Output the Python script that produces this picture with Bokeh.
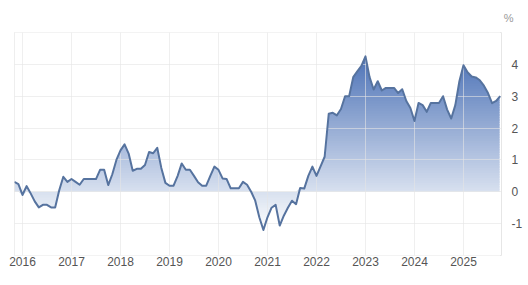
from bokeh.plotting import figure
from bokeh.models import Range1d, FixedTicker, LinearAxis, Title
from bokeh.embed import file_html
from bokeh.resources import INLINE
import numpy as np

# Monthly readings, Nov 2015 .. Oct 2025 (%)
start_year, start_month = 2015, 11
values_2015 = [0.31, 0.24]
values_2016 = [-0.10, 0.18, -0.05, -0.30, -0.49, -0.41, -0.41, -0.49, -0.49, 0.05, 0.47, 0.31]
values_2017 = [0.40, 0.31, 0.22, 0.40, 0.40, 0.40, 0.40, 0.69, 0.69, 0.21, 0.55, 1.00]
values_2018 = [1.30, 1.49, 1.20, 0.66, 0.72, 0.72, 0.84, 1.25, 1.21, 1.38, 0.75, 0.28]
values_2019 = [0.19, 0.19, 0.50, 0.89, 0.69, 0.69, 0.50, 0.30, 0.19, 0.19, 0.50, 0.79]
values_2020 = [0.69, 0.42, 0.40, 0.11, 0.11, 0.11, 0.31, 0.22, 0.00, -0.28, -0.80, -1.20]
values_2021 = [-0.80, -0.50, -0.41, -1.06, -0.75, -0.50, -0.28, -0.39, 0.12, 0.10, 0.50, 0.79]
values_2022 = [0.50, 0.80, 1.10, 2.45, 2.48, 2.40, 2.60, 3.00, 3.00, 3.60, 3.78, 3.95]
values_2023 = [4.25, 3.60, 3.21, 3.47, 3.18, 3.26, 3.26, 3.26, 3.10, 3.22, 2.85, 2.63]
values_2024 = [2.22, 2.79, 2.72, 2.51, 2.79, 2.79, 2.79, 3.00, 2.58, 2.30, 2.72, 3.47]
values_2025 = [3.97, 3.75, 3.62, 3.59, 3.50, 3.33, 3.10, 2.78, 2.85, 3.00]

year_ticks = [2016, 2017, 2018, 2019, 2020, 2021, 2022, 2023, 2024, 2025]
y_ticks = [-1, 0, 1, 2, 3, 4]
y_grid = [-2, -1, 0, 1, 2, 3, 4, 5]
unit_label = "%"

vals = np.array(values_2015 + values_2016 + values_2017 + values_2018 + values_2019 +
                values_2020 + values_2021 + values_2022 + values_2023 + values_2024 +
                values_2025, dtype=float)
idx = np.arange(len(vals))
x = start_year + (start_month - 1 + idx) / 12.0

p = figure(width=528, height=285, output_backend="svg", toolbar_location=None,
           x_range=Range1d(2015.837, 2025.776), y_range=Range1d(-2, 5),
           min_border_left=14, min_border_right=27, min_border_top=32, min_border_bottom=30,
           x_axis_location=None, y_axis_location=None)
p.background_fill_color = "white"
p.border_fill_color = "white"
p.outline_line_color = "#e6e6e6"

# gradient fill built from overlapping horizontal bands, then masked outside the area
ymin, ymax = vals.min(), vals.max()
nb = 70
edges = np.linspace(ymin, ymax, nb + 1)
dark = np.array([78, 116, 184])
white = np.array([255, 255, 255])
cols = []
for k in range(nb):
    t = ((edges[k] + edges[k + 1]) / 2 - ymin) / (ymax - ymin)
    c = (white * (1 - t) + dark * t).astype(int)
    cols.append("#%02x%02x%02x" % tuple(c))
inset = 0.015
bands = p.quad(left=[x[0] + inset] * nb, right=[x[-1] - inset] * nb,
               bottom=edges[:-1], top=edges[1:] + 0.06,
               fill_color=cols, line_color=None)
bands.level = "image"
m1 = p.varea(x=x, y1=np.maximum(vals, 0), y2=6, fill_color="white")
m1.level = "image"
m2 = p.varea(x=x, y1=-3, y2=np.minimum(vals, 0), fill_color="white")
m2.level = "image"

p.line(x, vals, line_color="#56739f", line_width=2, line_join="round")

xaxis = LinearAxis(ticker=FixedTicker(ticks=year_ticks),
                   major_label_overrides={y: str(y) for y in year_ticks})
xaxis.axis_line_color = None
xaxis.major_tick_line_color = None
xaxis.minor_tick_line_color = None
xaxis.major_label_standoff = -5
xaxis.major_label_text_font = "Liberation Sans"
xaxis.major_label_text_font_size = "12px"
xaxis.major_label_text_color = "#555555"
p.add_layout(xaxis, "below")

yaxis = LinearAxis(ticker=FixedTicker(ticks=y_ticks),
                   major_label_overrides={v: str(v) for v in y_ticks})
yaxis.axis_line_color = None
yaxis.major_tick_line_color = None
yaxis.minor_tick_line_color = None
yaxis.major_label_standoff = 4
yaxis.major_label_text_font = "Liberation Sans"
yaxis.major_label_text_font_size = "12px"
yaxis.major_label_text_color = "#555555"
p.add_layout(yaxis, "right")

p.xgrid.ticker = FixedTicker(ticks=year_ticks)
p.ygrid.ticker = FixedTicker(ticks=y_grid)
for g in (p.xgrid, p.ygrid):
    g.grid_line_color = "#e4e4e4"
    g.grid_line_alpha = 0.6
    g.level = "underlay"

p.add_layout(Title(text=unit_label, align="right", offset=-12, standoff=17,
                   text_font="Liberation Sans", text_font_size="11px",
                   text_font_style="normal", text_color="#999999"), "above")

open("out.html", "w").write(file_html(p, INLINE))
